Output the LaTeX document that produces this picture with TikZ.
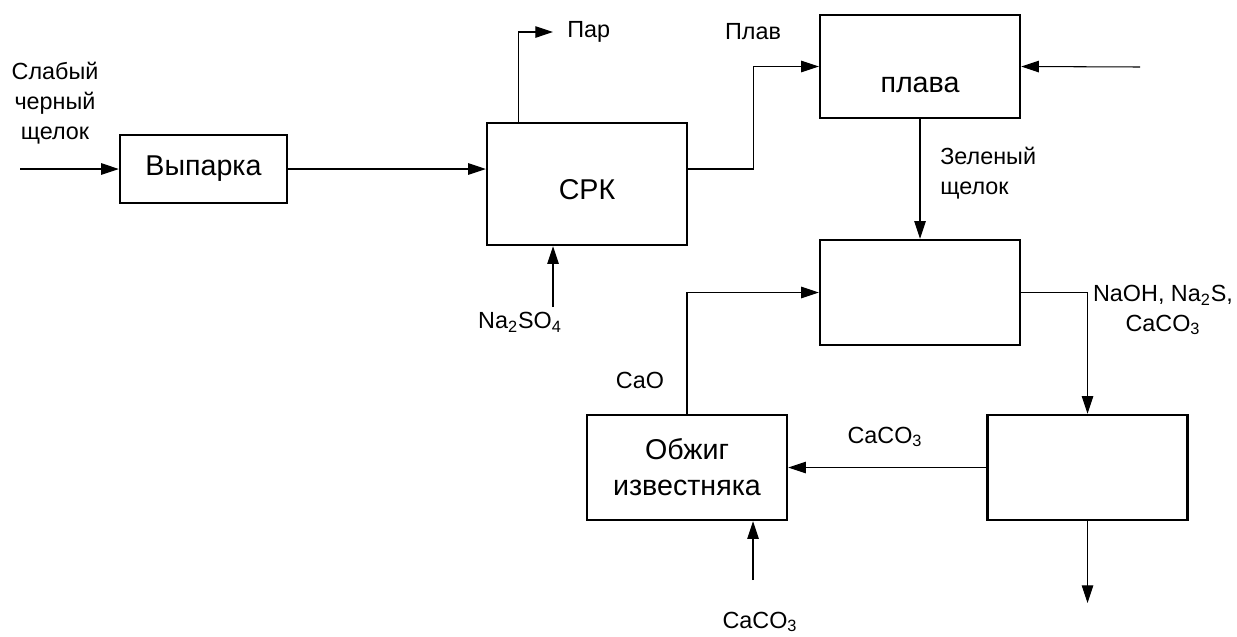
\documentclass[tikz,border=0pt]{standalone}
\usepackage{fontspec}
\setmainfont{Liberation Sans}
\usetikzlibrary{arrows.meta}

\tikzstyle{unit}=[draw,line width=1.4pt,minimum width=4cm,minimum height=2.1cm,inner sep=0pt,font=\fontsize{16.3}{20.5}\selectfont]
\tikzstyle{flow}=[line width=0.6pt,-{Triangle[length=10pt,width=6.5pt]}]
\tikzstyle{tag}=[font=\fontsize{13.3}{17}\selectfont,inner sep=0pt]

\begin{document}
\begin{tikzpicture}[x=0.02cm,y=-0.02cm]
			\useasboundingbox (0,0) rectangle (1237,636);
			%The process units
			\node[unit,minimum width=3.34cm,minimum height=1.36cm] (vyp) at (203.5,169) {Выпарка};
			\node[unit,minimum height=2.44cm,label={[yshift=-0.12cm,font=\fontsize{16.3}{20.5}\selectfont]center:СРК}] (srk) at (587,184) {};
			\node[unit,minimum height=2.06cm,label={[yshift=-0.37cm,font=\fontsize{16.3}{20.5}\selectfont]center:плава}] (plava) at (920,66.5) {};
			\node[unit] (mix) at (920,292.5) {};
			\node[unit] (sep) at (1087.5,467.5) {};
			\node[unit,align=center] (obzhig) at (687,467.5) {Обжиг\\известняка};
			%Free ends of the streams
			\coordinate (in) at (20,169);
			\coordinate (par) at (553,32);
			\coordinate (rin) at (1140,67);
			\coordinate (naso) at (553,307);
			\coordinate (caco) at (753,580);
			\coordinate (out) at (1087.5,603);
			%The streams
			\draw[flow] (in) -- (vyp.west);
			\draw[flow] (vyp.east) -- (vyp.east -| srk.west);
			\draw[flow] (srk.north west) ++(33,0) |- (par);
			\draw[flow] (vyp.east -| srk.east) -- ++(65,0) |- (plava.west);
			\draw[flow] (rin) -- (plava.east);
			\draw[flow] (plava.south) -- (mix.north);
			\draw[flow] (naso) -- (naso |- srk.south);
			\draw[flow] (mix.east) -| (sep.north);
			\draw[flow] (sep.west) -- (obzhig.east);
			\draw[flow] (sep.south) -- (out);
			\draw[flow] (obzhig.north) |- (mix.west);
			\draw[flow] (caco) -- (caco |- obzhig.south);
			%Adding the stream labels
			\node[tag,align=center] (weak) at (55,103) {Слабый\\черный\\щелок};
			\node[tag,anchor=west] (parlbl) at (567,32) {Пар};
			\node[tag] (plavlbl) at (753,32) {Плав};
			\node[tag,align=left,anchor=west] (green) at (940,173) {Зеленый\\щелок};
			\node[tag,align=center] (mixlbl) at (1163,310) {NaOH, Na\textsubscript{2}S,\\CaCO\textsubscript{3}};
			\node[tag] (naslbl) at (520,322) {Na\textsubscript{2}SO\textsubscript{4}};
			\node[tag] (caolbl) at (640,380) {CaO};
			\node[tag] (backlbl) at (885,437) {CaCO\textsubscript{3}};
			\node[tag] (cacolbl) at (760,622) {CaCO\textsubscript{3}};
		\end{tikzpicture}
\end{document}
